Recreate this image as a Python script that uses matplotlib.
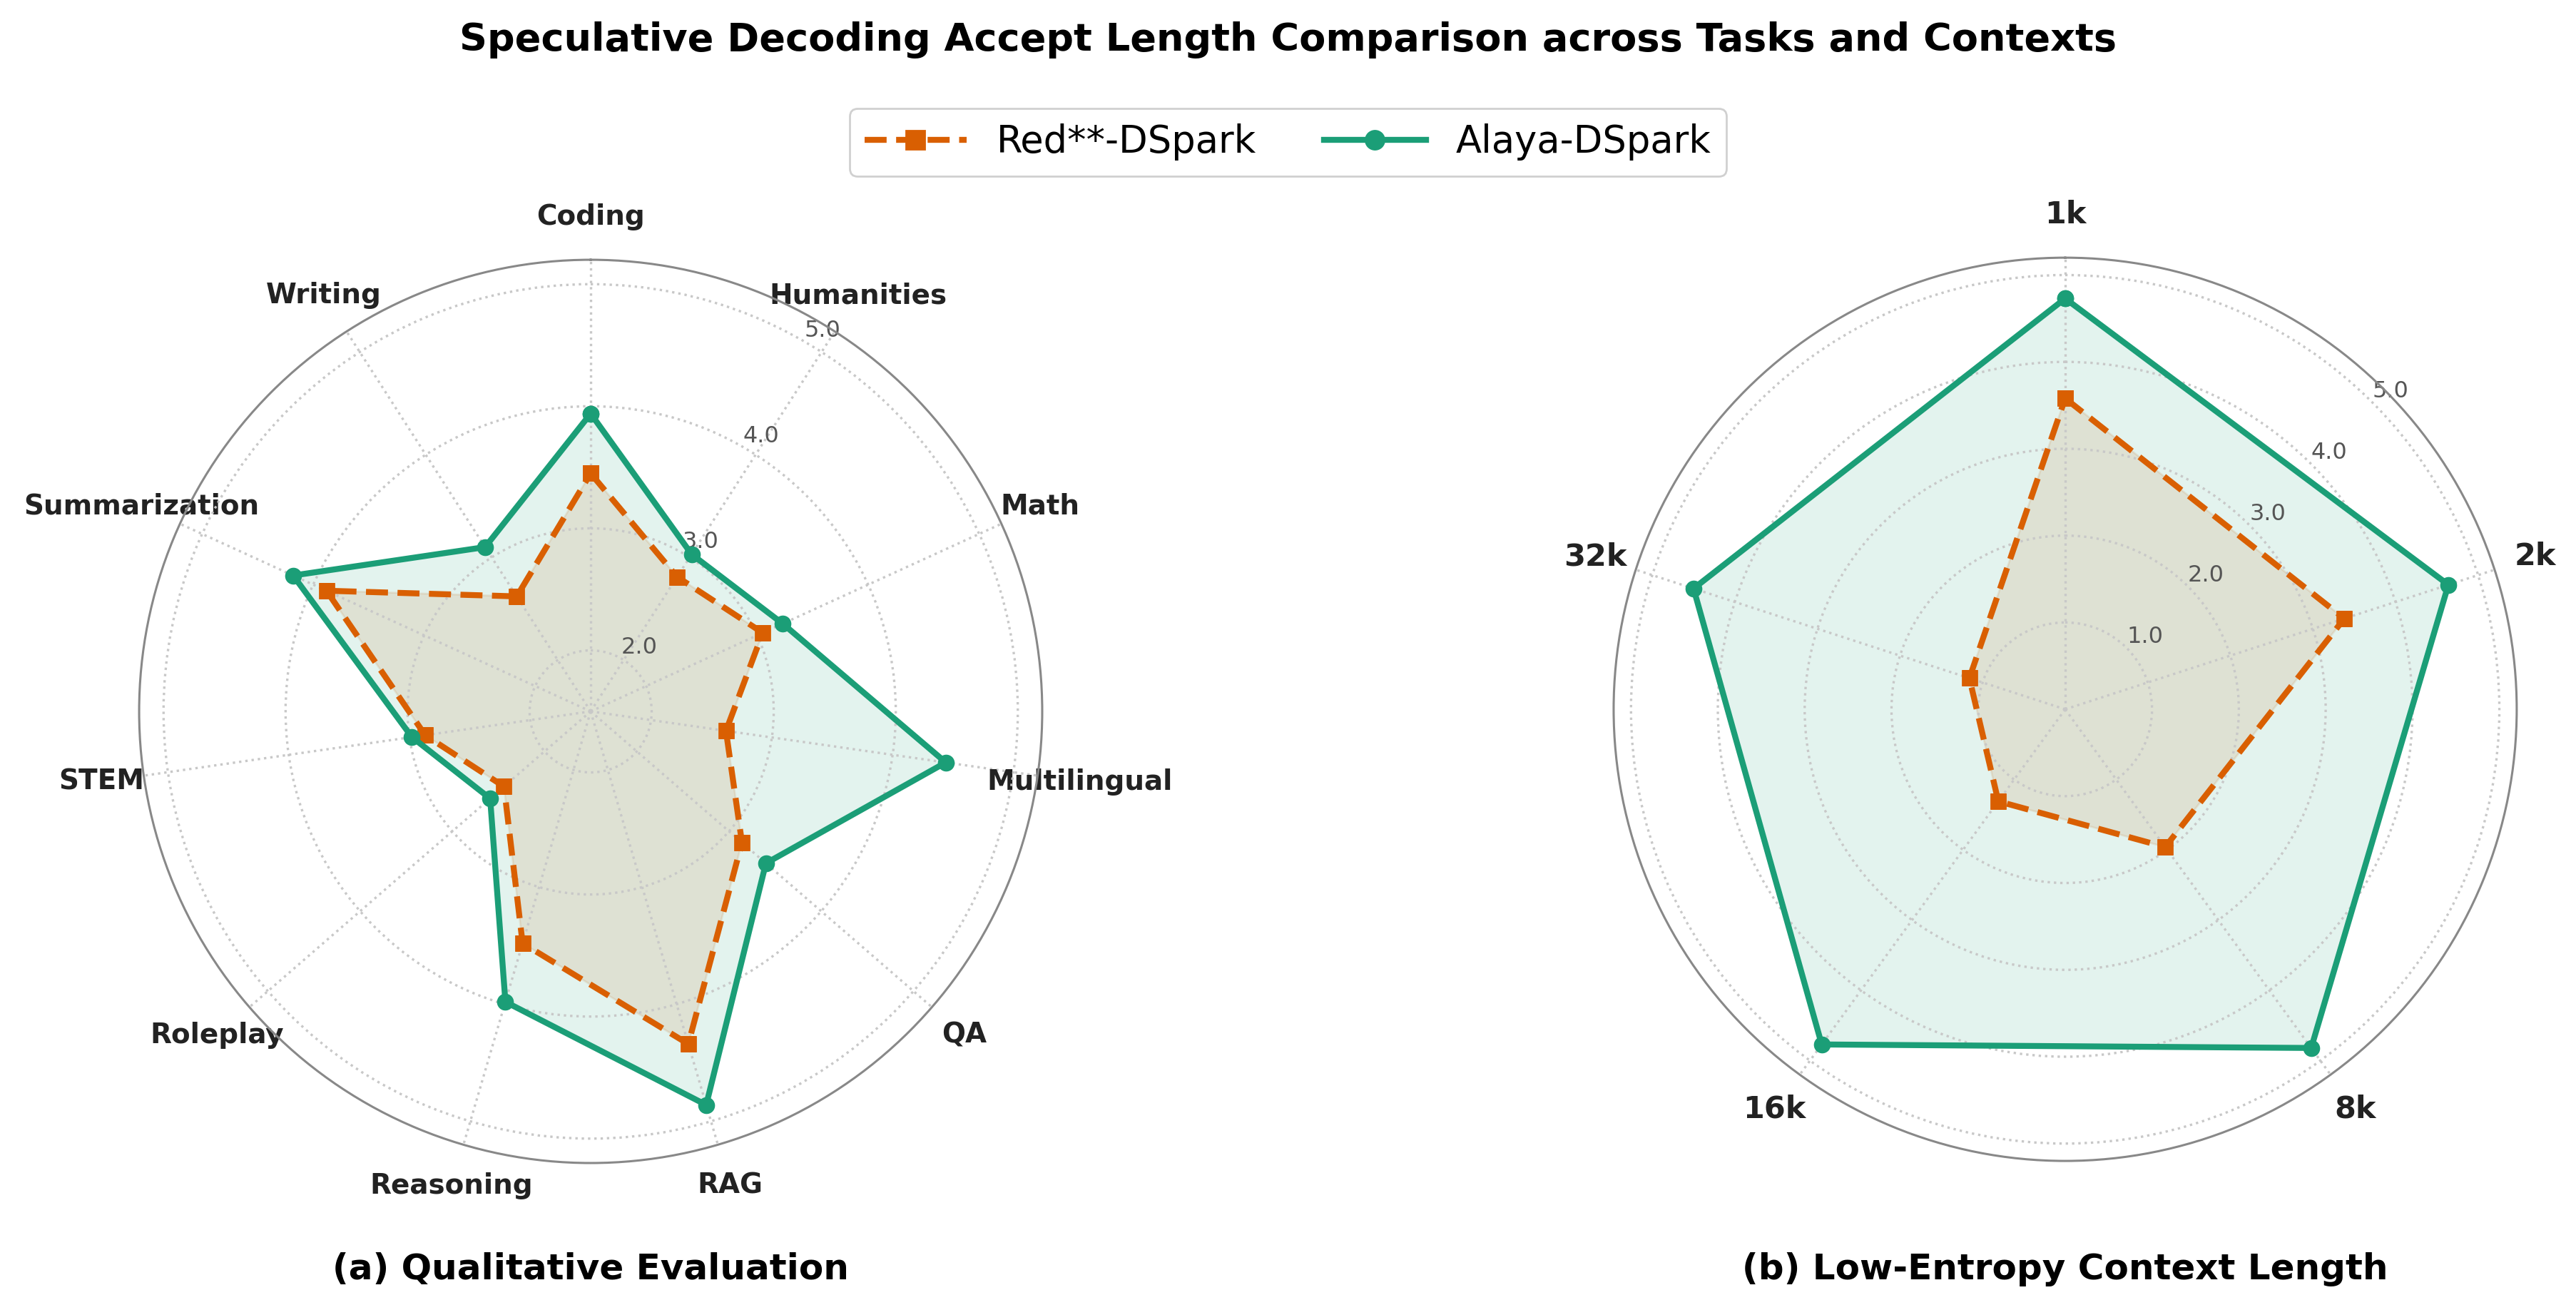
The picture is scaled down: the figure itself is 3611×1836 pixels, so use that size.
import numpy as np
import matplotlib
matplotlib.use("Agg")
import matplotlib.pyplot as plt

# (a) tasks, clockwise from the top
tasks = ["Coding", "Humanities", "Math", "Multilingual", "QA", "RAG",
         "Reasoning", "Roleplay", "STEM", "Summarization", "Writing"]
red_tasks = [3.45, 2.81, 3.05, 2.62, 3.14, 4.34, 3.48, 2.44, 2.87, 3.88, 2.62]
alaya_tasks = [3.94, 3.03, 3.23, 4.44, 3.40, 4.86, 3.98, 2.59, 2.98, 4.18, 3.10]

# (b) low-entropy context length
contexts = ["1k", "2k", "8k", "16k", "32k"]
red_ctx = [3.58, 3.38, 1.96, 1.31, 1.16]
alaya_ctx = [4.73, 4.64, 4.82, 4.77, 4.50]

GREEN = "#1b9e77"
ORANGE = "#d95f02"


def radar(ax, labels, red, alaya, rmin, rticks, rlabel_pos, label_size):
    n = len(labels)
    ang = np.linspace(0, 2 * np.pi, n, endpoint=False).tolist()
    ang += ang[:1]
    ax.set_theta_offset(np.pi / 2)
    ax.set_theta_direction(-1)

    series = [(red, ORANGE, "--", "s", "Red**-DSpark"),
              (alaya, GREEN, "-", "o", "Alaya-DSpark")]
    for vals, col, ls, mk, name in series:
        v = list(vals) + [vals[0]]
        ax.plot(ang, v, color=col, ls=ls, lw=3, marker=mk, ms=7.5, label=name)
        ax.fill(ang, v, color=col, alpha=0.12)

    ax.set_xticks(ang[:-1])
    ax.set_xticklabels(labels, fontsize=label_size, fontweight="bold", color="#222222")
    ax.tick_params(axis="x", pad=11)
    ax.set_ylim(rmin, 5.2)
    ax.set_yticks(rticks)
    ax.set_yticklabels([f"{t:.1f}" for t in rticks], fontsize=11.5, color="#555555")
    ax.set_rlabel_position(rlabel_pos)
    ax.grid(color="#c8c8c8", ls=":", lw=1.2)
    ax.spines["polar"].set_color("#888888")
    ax.spines["polar"].set_linewidth(1.1)


fig = plt.figure(figsize=(3611 / 200, 1836 / 200), dpi=200)
ax1 = fig.add_axes([0.054, 0.1122, 0.3506, 0.6895], projection="polar")
ax2 = fig.add_axes([0.6264, 0.1138, 0.3506, 0.6895], projection="polar")

radar(ax1, tasks, red_tasks, alaya_tasks, 1.5, [2, 3, 4, 5], 30, 14)
radar(ax2, contexts, red_ctx, alaya_ctx, 0, [1, 2, 3, 4, 5], 45, 15.5)

fig.text(0.5, 0.9613, "Speculative Decoding Accept Length Comparison across Tasks and Contexts",
         ha="center", va="baseline", fontsize=19.5, fontweight="bold")
fig.text(0.2293, 0.0234, "(a) Qualitative Evaluation", ha="center", va="baseline",
         fontsize=18, fontweight="bold")
fig.text(0.8017, 0.0234, "(b) Low-Entropy Context Length", ha="center", va="baseline",
         fontsize=18, fontweight="bold")

h, l = ax1.get_legend_handles_labels()
fig.legend(h, l, loc="upper center", bbox_to_anchor=(0.5, 0.917), ncol=2,
           fontsize=19, borderaxespad=0, handlelength=2.7, columnspacing=1.8,
           markerscale=1.25, edgecolor="#d0d0d0", framealpha=1)

fig.savefig("out.png", dpi=200)
